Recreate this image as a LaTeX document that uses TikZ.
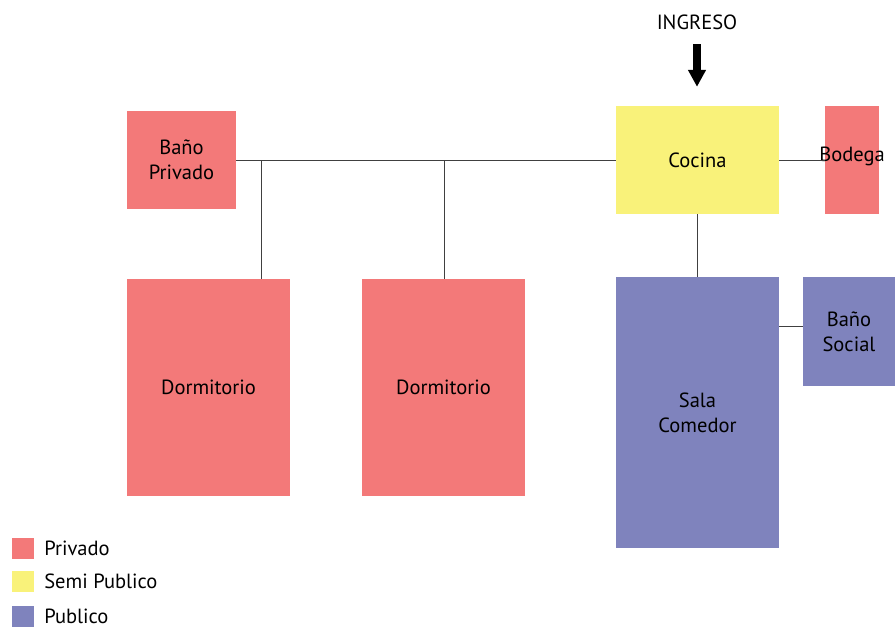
\documentclass[tikz,border=0pt]{standalone}
\usepackage{fontspec}
\setmainfont{PT Sans}
\usetikzlibrary{arrows.meta}

\definecolor{privado}{HTML}{F37979}
\definecolor{semipub}{HTML}{F9F27A}
\definecolor{publico}{HTML}{7F83BD}

\begin{document}
\begin{tikzpicture}[font=\fontsize{14.6}{18}\selectfont]
			\tikzset{espacio/.style={rectangle, inner sep=0pt, align=center}, enlace/.style={draw=black!75, line width=0.7pt}, muestra/.style={rectangle, minimum width=0.55cm, minimum height=0.53cm, inner sep=0pt}};

			\useasboundingbox (0,0) rectangle (22.375,-15.75);

			\node[espacio, fill=privado, minimum width=2.725cm, minimum height=2.45cm] (bp) at ( 4.5375,  -4.0   ) {Baño\\Privado};
			\node[espacio, fill=privado, minimum width=4.075cm, minimum height=5.425cm] (d1) at ( 5.2125,  -9.6875) {Dormitorio};
			\node[espacio, fill=privado, minimum width=4.075cm, minimum height=5.425cm] (d2) at (11.0875,  -9.6875) {Dormitorio};
			\node[espacio, fill=semipub, minimum width=4.075cm, minimum height=2.7cm] (co) at (17.4375,  -4.0   ) {Cocina};
			\node[espacio, fill=privado, minimum width=1.35cm, minimum height=2.7cm] (bo) at (21.3,     -4.0   ) {};
			\node[espacio] (bot) at (21.3, -3.9) {Bodega};
			\node[espacio, fill=publico, minimum width=4.075cm, minimum height=6.775cm] (sc) at (17.4375, -10.3125) {Sala\\Comedor};
			\node[espacio, fill=publico, minimum width=2.3cm, minimum height=2.725cm] (bs) at (21.225,  -8.2875) {Baño\\Social};

			\node (ing) at (17.425, -0.55) {INGRESO};

			\coordinate (j1) at ( 6.525, -4.0);
			\coordinate (j2) at (11.1,   -4.0);
			\coordinate (ja) at (17.425, -1.1);
			\coordinate (jb) at (17.425, -2.17);
			\coordinate (js) at (19.475, -8.17);

			% enlaces
			\draw[enlace] (bp.east) -- (co.west);
			\draw[enlace] (j1) -- (j1 |- d1.north);
			\draw[enlace] (j2) -- (j2 |- d2.north);
			\draw[enlace] (co.east) -- (bo.west);
			\draw[enlace] (co.south -| ja) -- (sc.north -| ja);
			\draw[enlace] (js) -- (js -| bs.west);
			\draw[line width=5pt, -{Triangle[length=12pt, width=12pt]}] (ja) -- (jb);

			% leyenda
			\node[muestra, fill=privado] (lp) at (0.575, -13.7125) {};
			\node[muestra, fill=semipub] (ls) at (0.575, -14.5375) {};
			\node[muestra, fill=publico] (lu) at (0.575, -15.4125) {};
			\node[anchor=west, inner sep=0pt] at (1.1, -13.7125) {Privado};
			\node[anchor=west, inner sep=0pt] at (1.1, -14.5375) {Semi Publico};
			\node[anchor=west, inner sep=0pt] at (1.1, -15.4125) {Publico};

		\end{tikzpicture}
\end{document}
